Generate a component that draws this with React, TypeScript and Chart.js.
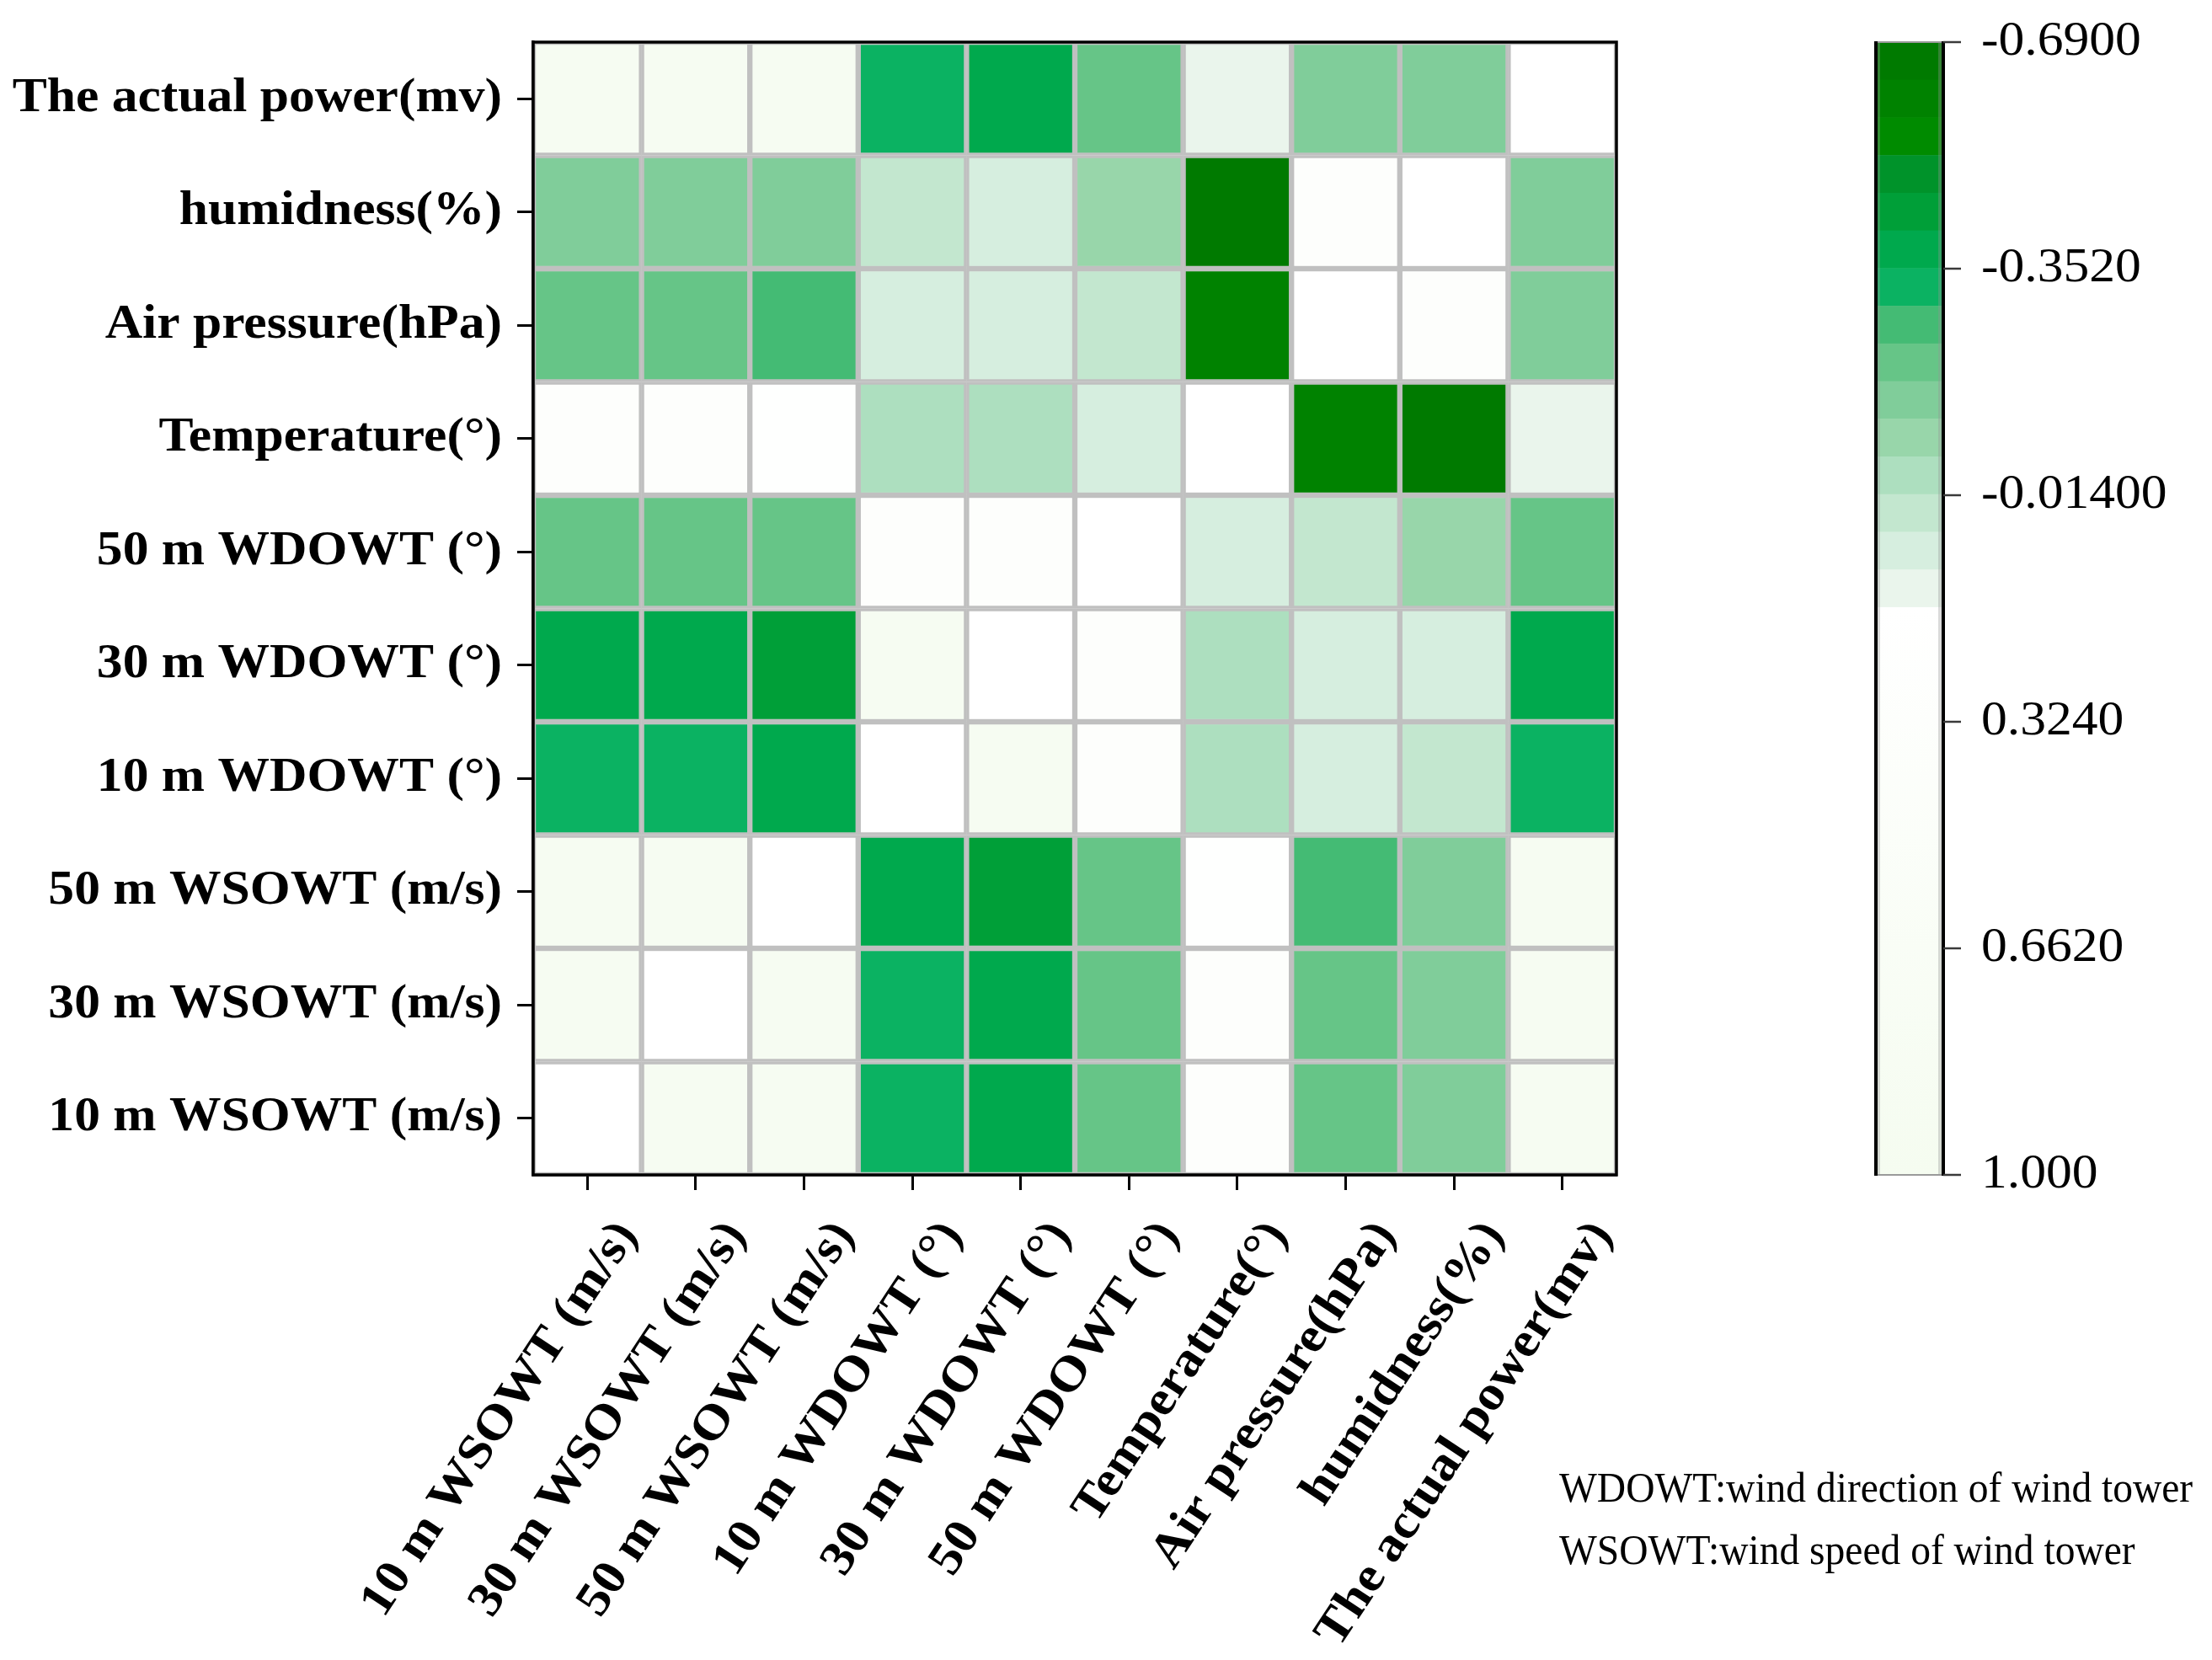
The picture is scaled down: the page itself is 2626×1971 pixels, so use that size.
import React, { useEffect, useRef } from "react";
import { Chart, registerables } from "chart.js";

Chart.register(...registerables);

// ---------- DATA ----------
const COLUMN_LABELS = [
  "10 m WSOWT (m/s)",
  "30 m WSOWT (m/s)",
  "50 m WSOWT (m/s)",
  "10 m WDOWT (°)",
  "30 m WDOWT (°)",
  "50 m WDOWT (°)",
  "Temperature(°)",
  "Air pressure(hPa)",
  "humidness(%)",
  "The actual power(mv)",
];

// rows from top to bottom
const ROW_LABELS = [
  "The actual power(mv)",
  "humidness(%)",
  "Air pressure(hPa)",
  "Temperature(°)",
  "50 m WDOWT (°)",
  "30 m WDOWT (°)",
  "10 m WDOWT (°)",
  "50 m WSOWT (m/s)",
  "30 m WSOWT (m/s)",
  "10 m WSOWT (m/s)",
];

// each row: values against COLUMN_LABELS (left to right)
const ROW_POWER = [0.9, 0.9, 0.9, -0.33, -0.38, -0.21, 0.12, -0.16, -0.16, 1.0];
const ROW_HUMIDNESS = [-0.16, -0.16, -0.16, 0.01, 0.07, -0.1, -0.66, 0.35, 1.0, -0.16];
const ROW_AIR_PRESSURE = [-0.21, -0.21, -0.27, 0.07, 0.07, 0.01, -0.61, 1.0, 0.35, -0.16];
const ROW_TEMPERATURE = [0.3, 0.3, 0.2, -0.04, -0.04, 0.07, 1.0, -0.61, -0.66, 0.12];
const ROW_WD50 = [-0.21, -0.21, -0.21, 0.35, 0.35, 1.0, 0.07, 0.01, -0.1, -0.21];
const ROW_WD30 = [-0.38, -0.38, -0.44, 0.9, 1.0, 0.35, -0.04, 0.07, 0.07, -0.38];
const ROW_WD10 = [-0.33, -0.33, -0.38, 1.0, 0.9, 0.35, -0.04, 0.07, 0.01, -0.33];
const ROW_WS50 = [0.9, 0.9, 1.0, -0.38, -0.44, -0.21, 0.2, -0.27, -0.16, 0.9];
const ROW_WS30 = [0.9, 1.0, 0.9, -0.33, -0.38, -0.21, 0.3, -0.21, -0.16, 0.9];
const ROW_WS10 = [1.0, 0.9, 0.9, -0.33, -0.38, -0.21, 0.3, -0.21, -0.16, 0.9];

const MATRIX = [
  ROW_POWER,
  ROW_HUMIDNESS,
  ROW_AIR_PRESSURE,
  ROW_TEMPERATURE,
  ROW_WD50,
  ROW_WD30,
  ROW_WD10,
  ROW_WS50,
  ROW_WS30,
  ROW_WS10,
];

const CB_TICKS = [-0.69, -0.352, -0.014, 0.324, 0.662, 1.0];
const CB_TICK_LABELS = ["-0.6900", "-0.3520", "-0.01400", "0.3240", "0.6620", "1.000"];

const NOTE_LINES = [
  "WDOWT:wind direction of wind tower",
  "WSOWT:wind speed of wind tower",
];

// ---------- COLOUR MAP ----------
const CB_MIN = -0.69;
const CB_MAX = 1.0;
const CB_WHITE_START = 0.153;
const BAND_COLORS = [
  "#007a00",
  "#008200",
  "#008b00",
  "#00932a",
  "#009f38",
  "#00a94d",
  "#0bb262",
  "#44bb74",
  "#66c587",
  "#80cd9a",
  "#98d6aa",
  "#addfbf",
  "#c3e7cf",
  "#d6eedf",
  "#eaf5ec",
];
const GRAD_START = [255, 255, 255];
const GRAD_END = [245, 252, 240];
const ABOVE_COLOR = "#ffffff";

function cellColor(v: number): string {
  if (v >= CB_MAX) return ABOVE_COLOR;
  if (v < CB_WHITE_START) {
    const w = (CB_WHITE_START - CB_MIN) / BAND_COLORS.length;
    let k = Math.floor((v - CB_MIN) / w);
    k = Math.max(0, Math.min(BAND_COLORS.length - 1, k));
    return BAND_COLORS[k];
  }
  const t = (v - CB_WHITE_START) / (CB_MAX - CB_WHITE_START);
  const c = GRAD_START.map((s, i) => Math.round(s + (GRAD_END[i] - s) * t));
  return `rgb(${c[0]},${c[1]},${c[2]})`;
}

// ---------- STYLE ----------
const W = 2626;
const H = 1971;
const SERIF = '"Liberation Serif", "Times New Roman", serif';
const CB_LEFT = 2227;
const CB_RIGHT = 2307;
const CB_LABEL_X = 2352;
const X_ROT = (-56.5 * Math.PI) / 180;

function drawStretched(
  ctx: CanvasRenderingContext2D,
  text: string,
  x: number,
  y: number,
  font: string,
  align: CanvasTextAlign,
  sx: number,
  rot = 0
) {
  ctx.save();
  ctx.translate(x, y);
  if (rot) ctx.rotate(rot);
  ctx.scale(sx, 1);
  ctx.font = font;
  ctx.textAlign = align;
  ctx.textBaseline = "middle";
  ctx.fillStyle = "#000";
  ctx.fillText(text, 0, 0);
  ctx.restore();
}

const decorPlugin = {
  id: "heatmapDecor",
  afterDatasetsDraw(chart: any) {
    const { ctx, chartArea: a } = chart;
    ctx.save();
    ctx.strokeStyle = "#000";
    ctx.lineWidth = 3.5;
    ctx.strokeRect(a.left, a.top, a.right - a.left, a.bottom - a.top);
    ctx.restore();
  },
  afterDraw(chart: any) {
    const { ctx, chartArea: a, scales } = chart;
    const xs = scales.x;
    const ys = scales.y;
    const cb = scales.cb;

    // y labels
    ROW_LABELS.forEach((label, r) => {
      const y = ys.getPixelForValue(ROW_LABELS.length - 1 - r + 0.5);
      drawStretched(ctx, label, 596, y, `bold 57px ${SERIF}`, "right", 1.08);
    });

    // x labels (rotated)
    COLUMN_LABELS.forEach((label, c) => {
      const x = xs.getPixelForValue(c);
      drawStretched(ctx, label, x + 48, a.bottom + 62, `bold 58px ${SERIF}`, "right", 1.08, X_ROT);
    });

    // colour bar
    const nb = BAND_COLORS.length;
    const bw = (CB_WHITE_START - CB_MIN) / nb;
    ctx.save();
    for (let k = 0; k < nb; k++) {
      const y0 = cb.getPixelForValue(CB_MIN + k * bw);
      const y1 = cb.getPixelForValue(CB_MIN + (k + 1) * bw);
      ctx.fillStyle = BAND_COLORS[k];
      ctx.fillRect(CB_LEFT, Math.min(y0, y1), CB_RIGHT - CB_LEFT, Math.abs(y1 - y0) + 0.5);
    }
    const gy0 = cb.getPixelForValue(CB_WHITE_START);
    const gy1 = cb.getPixelForValue(CB_MAX);
    const grad = ctx.createLinearGradient(0, gy0, 0, gy1);
    grad.addColorStop(0, `rgb(${GRAD_START.join(",")})`);
    grad.addColorStop(1, `rgb(${GRAD_END.join(",")})`);
    ctx.fillStyle = grad;
    ctx.fillRect(CB_LEFT, Math.min(gy0, gy1), CB_RIGHT - CB_LEFT, Math.abs(gy1 - gy0));

    const top = cb.getPixelForValue(CB_MIN);
    const bot = cb.getPixelForValue(CB_MAX);
    // inner grey strips
    ctx.fillStyle = "rgba(150,150,150,0.35)";
    ctx.fillRect(CB_LEFT + 2, top, 3, bot - top);
    ctx.fillRect(CB_RIGHT - 6, top, 4, bot - top);
    // top / bottom thin lines
    ctx.strokeStyle = "#9a9a9a";
    ctx.lineWidth = 2;
    ctx.beginPath();
    ctx.moveTo(CB_LEFT, top);
    ctx.lineTo(CB_RIGHT, top);
    ctx.moveTo(CB_LEFT, bot);
    ctx.lineTo(CB_RIGHT, bot);
    ctx.stroke();
    // black side edges
    ctx.strokeStyle = "#000";
    ctx.lineWidth = 4;
    ctx.beginPath();
    ctx.moveTo(CB_LEFT, top - 1);
    ctx.lineTo(CB_LEFT, bot + 1);
    ctx.moveTo(CB_RIGHT, top - 1);
    ctx.lineTo(CB_RIGHT, bot + 1);
    ctx.stroke();
    // ticks
    ctx.strokeStyle = "#3a3a3a";
    ctx.lineWidth = 2.5;
    CB_TICKS.forEach((t) => {
      const y = cb.getPixelForValue(t);
      ctx.beginPath();
      ctx.moveTo(CB_RIGHT, y);
      ctx.lineTo(CB_RIGHT + 21, y);
      ctx.stroke();
    });
    ctx.restore();
    CB_TICKS.forEach((t, i) => {
      const y = cb.getPixelForValue(t);
      drawStretched(ctx, CB_TICK_LABELS[i], CB_LABEL_X, y, `57px ${SERIF}`, "left", 1.08);
    });

    // notes
    NOTE_LINES.forEach((line, i) => {
      drawStretched(ctx, line, 1851, 1770 + i * 74, `50px ${SERIF}`, "left", 0.95);
    });
  },
};

export default function App() {
  const canvasRef = useRef<HTMLCanvasElement | null>(null);

  useEffect(() => {
    const canvas = canvasRef.current;
    if (!canvas) return;
    const nRows = ROW_LABELS.length;
    // stacked bars: bottom row first
    const datasets = [];
    for (let i = 0; i < nRows; i++) {
      const r = nRows - 1 - i;
      datasets.push({
        label: ROW_LABELS[r],
        data: COLUMN_LABELS.map(() => 1),
        backgroundColor: MATRIX[r].map((v) => cellColor(v)),
        borderColor: "#c0c0c0",
        borderWidth: 3.5,
        borderSkipped: false,
        barPercentage: 1,
        categoryPercentage: 1,
        xAxisID: "x",
        yAxisID: "y",
        stack: "cells",
      });
    }

    const chart = new Chart(canvas, {
      type: "bar",
      data: { labels: COLUMN_LABELS, datasets: datasets as any },
      options: {
        animation: false,
        responsive: false,
        maintainAspectRatio: false,
        devicePixelRatio: 1,
        layout: { padding: { left: 614, top: 50, right: 707, bottom: 558 } },
        plugins: { legend: { display: false }, tooltip: { enabled: false }, title: { display: false } },
        scales: {
          x: {
            type: "category",
            stacked: true,
            offset: true,
            grid: {
              offset: false,
              drawOnChartArea: false,
              drawTicks: true,
              tickLength: 18,
              tickWidth: 3,
              tickColor: "#000",
              color: "#000",
            },
            border: { display: true, color: "#000", width: 3.5 },
            ticks: { display: false },
          },
          y: {
            type: "linear",
            stacked: true,
            min: 0,
            max: ROW_LABELS.length,
            afterBuildTicks: (scale: any) => {
              scale.ticks = ROW_LABELS.map((_, i) => ({ value: i + 0.5 }));
            },
            grid: {
              drawOnChartArea: false,
              drawTicks: true,
              tickLength: 19,
              tickWidth: 3,
              tickColor: "#000",
              color: "#000",
            },
            border: { display: true, color: "#000", width: 3.5 },
            ticks: { display: false },
          },
          cb: {
            type: "linear",
            position: "right",
            display: false,
            min: CB_MIN,
            max: CB_MAX,
            reverse: true,
            afterBuildTicks: (scale: any) => {
              scale.ticks = CB_TICKS.map((v) => ({ value: v }));
            },
          },
        },
      } as any,
      plugins: [decorPlugin as any],
    });
    return () => chart.destroy();
  }, []);

  return (
    <div style={{ position: "absolute", left: 0, top: 0, width: W, height: H, background: "#fff" }}>
      <canvas ref={canvasRef} width={W} height={H} style={{ width: W, height: H, display: "block" }} />
    </div>
  );
}
